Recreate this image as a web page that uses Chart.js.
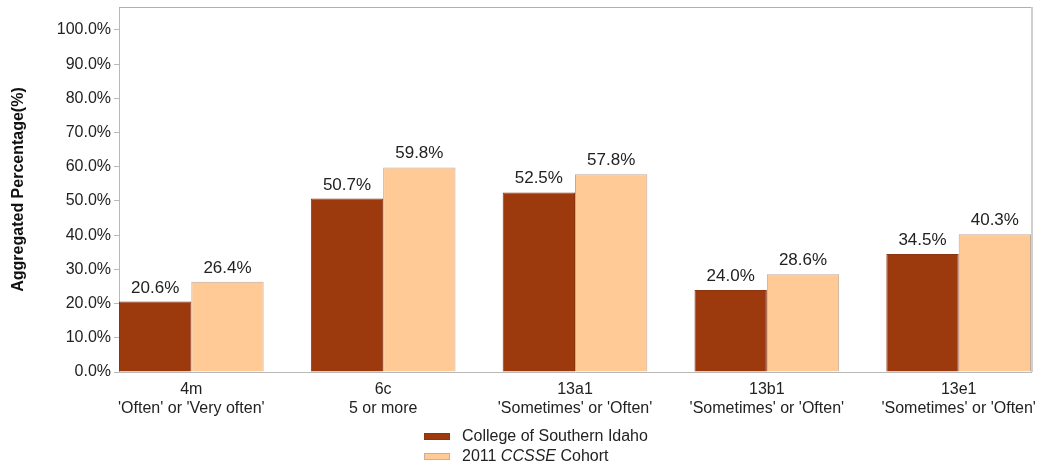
<!DOCTYPE html>
<html>
<head>
<meta charset="utf-8">
<script src="https://cdn.jsdelivr.net/npm/chart.js@4/dist/chart.umd.min.js"></script>
<style>
  html, body { margin: 0; padding: 0; background: #fff; }
  #wrap { position: relative; width: 1048px; height: 465px; }
  #legend { position: absolute; left: 424px; top: 426px; font-family: "Liberation Sans", Arial, sans-serif; font-size: 16px; color: #222; }
  .row { display: flex; align-items: center; height: 20px; }
  .box { width: 26px; height: 7px; margin-right: 12px; box-sizing: border-box; }
</style>
</head>
<body>
<div id="wrap">
  <canvas id="c" width="1048" height="465"></canvas>
  <div id="legend">
    <div class="row"><span class="box" style="background:#9c3a0e;border:1px solid #8a3510"></span><span>College of Southern Idaho</span></div>
    <div class="row"><span class="box" style="background:#ffca96;border:1px solid #c8b09a"></span><span>2011 <i>CCSSE</i> Cohort</span></div>
  </div>
</div>
<script>
const categoryCodes = ["4m", "6c", "13a1", "13b1", "13e1"];
const categoryDescriptions = ["'Often' or 'Very often'", "5 or more", "'Sometimes' or 'Often'", "'Sometimes' or 'Often'", "'Sometimes' or 'Often'"];
const seriesNames = ["College of Southern Idaho", "2011 CCSSE Cohort"];
const collegeValues = [20.6, 50.7, 52.5, 24.0, 34.5];
const cohortValues = [26.4, 59.8, 57.8, 28.6, 40.3];
const yTicks = [0, 10, 20, 30, 40, 50, 60, 70, 80, 90, 100];

const FONT = '"Liberation Sans", Arial, sans-serif';

const valueLabels = {
  id: 'valueLabels',
  afterDatasetsDraw(chart) {
    const ctx = chart.ctx;
    ctx.save();
    ctx.font = '17px ' + FONT;
    ctx.fillStyle = '#222';
    ctx.textAlign = 'center';
    ctx.textBaseline = 'alphabetic';
    chart.data.datasets.forEach((ds, i) => {
      const meta = chart.getDatasetMeta(i);
      meta.data.forEach((el, j) => {
        const v = ds.data[j].y;
        ctx.fillText(v.toFixed(1) + '%', el.x, el.y - 9);
      });
    });
    ctx.restore();
  }
};

const frame = {
  id: 'frame',
  afterDraw(chart) {
    const a = chart.chartArea, ctx = chart.ctx;
    ctx.save();
    ctx.strokeStyle = '#b0b0b0';
    ctx.lineWidth = 1;
    ctx.beginPath();
    ctx.moveTo(a.left, a.top + 0.5);
    ctx.lineTo(a.right, a.top + 0.5);
    ctx.stroke();
    ctx.strokeStyle = '#d0d0d0';
    ctx.lineWidth = 2;
    ctx.beginPath();
    ctx.moveTo(a.right + 1, a.top);
    ctx.lineTo(a.right + 1, a.bottom);
    ctx.stroke();
    ctx.restore();
  }
};

const toXY = arr => arr.map((v, i) => ({ x: i, y: v }));

new Chart(document.getElementById('c'), {
  type: 'bar',
  data: {
    datasets: [
      { label: seriesNames[0], data: toXY(collegeValues), backgroundColor: '#9c3a0e', borderColor: '#8a3510', borderWidth: 1,
        categoryPercentage: 0.754, barPercentage: 1.0 },
      { label: seriesNames[1], data: toXY(cohortValues), backgroundColor: '#ffca96', borderColor: '#c0aa98', borderWidth: 1,
        categoryPercentage: 0.754, barPercentage: 1.0 }
    ]
  },
  options: {
    responsive: false,
    animation: false,
    layout: { padding: { left: 0, top: 7, right: 17, bottom: 0 } },
    plugins: { legend: { display: false }, tooltip: { enabled: false } },
    scales: {
      x: {
        type: 'linear',
        min: -0.377,
        max: 4.377,
        offset: false,
        afterBuildTicks: s => { s.ticks = categoryCodes.map((c, i) => ({ value: i })); },
        afterFit: s => { s.height = 93; s.paddingLeft = 0; s.paddingRight = 0; },
        grid: { display: false, drawTicks: false },
        border: { display: true, color: '#b8b8b8', width: 1 },
        ticks: {
          padding: 8,
          autoSkip: false,
          maxRotation: 0,
          color: '#222',
          font: { family: FONT, size: 16, lineHeight: 1.2 },
          callback: v => [categoryCodes[v], categoryDescriptions[v]]
        }
      },
      y: {
        min: 0,
        max: 106.7,
        afterBuildTicks: s => { s.ticks = yTicks.map(v => ({ value: v })); },
        afterFit: s => { s.width = 119; s.paddingTop = 0; s.paddingBottom = 0; },
        grid: { drawOnChartArea: false, drawTicks: true, tickLength: 5, color: '#b8b8b8' },
        border: { display: true, color: '#b8b8b8', width: 1 },
        ticks: {
          padding: 3,
          color: '#222',
          font: { family: FONT, size: 16 },
          callback: v => v.toFixed(1) + '%'
        },
        title: {
          display: true,
          text: 'Aggregated Percentage(%)',
          color: '#111',
          font: { family: FONT, size: 16, weight: 'bold' },
          padding: { top: 9, bottom: 0 }
        }
      }
    }
  },
  plugins: [valueLabels, frame]
});
</script>
</body>
</html>
